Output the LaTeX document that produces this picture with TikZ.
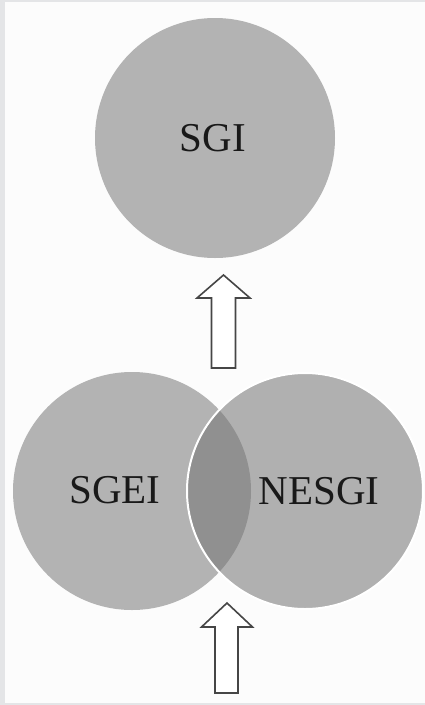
\documentclass[tikz,border=0pt]{standalone}
\usepackage{fontspec}
\setmainfont{Liberation Serif}
\usepackage{tikz}
\usetikzlibrary{positioning}
\definecolor{venngray}{RGB}{179,179,179}
\definecolor{framegray}{RGB}{228,229,231}
\definecolor{edgegray}{RGB}{70,70,70}

\begin{document}
\begin{tikzpicture}[x=1pt,y=-1pt,
  venn/.style={circle,inner sep=0pt,fill=venngray},
  venntext/.style={font=\fontsize{41}{41}\selectfont,text=black!90},
  blockarrow/.style={draw=edgegray,fill=white,line width=1.6pt,line join=miter}]
%%Frame
\fill[framegray] (0,0) rectangle (425,705);
\fill[white!99!black] (4.5,2) rectangle (425,702.5);
\useasboundingbox (0,0) rectangle (425,705);
%%Circles
\node[venn,minimum size=240pt] (sgi) at (215,138) {};
\node[venn,minimum size=238pt] (sgei) at (132,491) {};
\node[venn,minimum size=236pt,fill=black!54,fill opacity=0.56,draw=white,line width=2pt] (nesgi) at (305,491) {};
%%Labels
\node[venntext] (sgitext) at (213,138) {SGI};
\node[venntext] (sgeitext) at (115,490) {SGEI};
\node[venntext] (nesgitext) at (319,491) {NESGI};
%%Arrows
\draw[blockarrow] (223.5,275) -- (250,298) -- (235.5,298) -- (235.5,368)
  -- (211.5,368) -- (211.5,298) -- (197,298) -- cycle;
\draw[blockarrow] (227,603) -- (252.5,627) -- (238,627) -- (238,693)
  -- (215,693) -- (215,627) -- (201.5,627) -- cycle;
\end{tikzpicture}
\end{document}
